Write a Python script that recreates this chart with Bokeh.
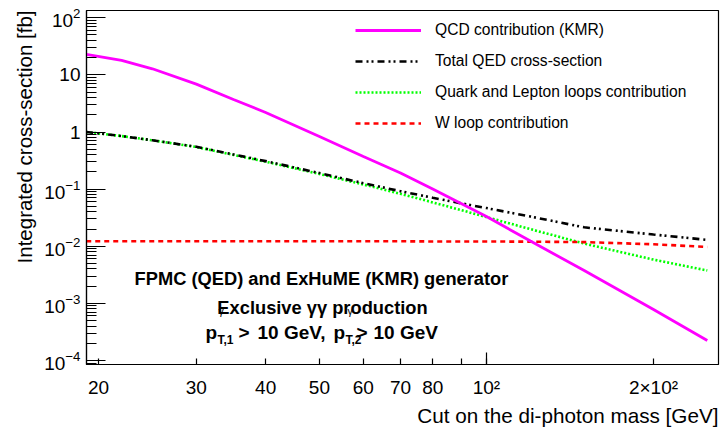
import numpy as np
from bokeh.plotting import figure
from bokeh.models import FixedTicker, Legend, LegendItem, Label, Title, Range1d
from bokeh.embed import file_html
from bokeh.resources import INLINE

# ---------------- data ----------------
mass_cut = [19, 22, 25, 30, 35, 40, 50, 60, 70, 80, 90, 100, 120, 150, 200, 250]
qcd_kmr = [22.8, 18.0, 12.8, 6.9, 3.71, 2.20, 0.834, 0.372, 0.191, 0.100, 0.056,
           0.0331, 0.0123, 0.00375, 7.8e-4, 2.23e-4]
total_qed = [1.00, 0.85, 0.716, 0.551, 0.405, 0.309, 0.191, 0.127, 0.0919, 0.0705,
             0.0564, 0.0465, 0.0331, 0.0214, 0.0160, 0.0129]
quark_lepton = [1.00, 0.85, 0.716, 0.546, 0.397, 0.302, 0.184, 0.1205, 0.0828,
                0.0585, 0.0429, 0.0323, 0.0199, 0.0111, 0.00582, 0.00375]
w_loop = [0.0122, 0.0122, 0.0122, 0.0122, 0.0122, 0.0122, 0.0122, 0.0122, 0.0122,
          0.0121, 0.0121, 0.0121, 0.0120, 0.0118, 0.0108, 0.0097]

series_labels = ["QCD contribution (KMR)", "Total QED cross-section",
                 "Quark and Lepton loops contribution", "W loop contribution"]

x_ticks = [20, 30, 40, 50, 60, 70, 80, 90, 100, 200]
x_tick_labels = ["20", "30", "40", "50", "60", "70", "80", "", "10\u00b2", "2\u00d710\u00b2"]
y_ticks = [1e-4, 1e-3, 1e-2, 1e-1, 1, 10, 100]
y_minor = [9e-5] + [k * 10.0 ** e for e in range(-4, 2) for k in range(2, 10)]

FONT = "Liberation Sans"

p = figure(width=720, height=430, x_axis_type="log", y_axis_type="log",
           x_range=Range1d(19.02, 261.9), y_range=Range1d(10 ** -4.072, 10 ** 2.128),
           output_backend="svg", toolbar_location=None,
           min_border_left=86, min_border_right=2, min_border_top=10, min_border_bottom=66)

p.xgrid.visible = False
p.ygrid.visible = False
p.outline_line_color = "black"
p.outline_line_width = 1.2
p.background_fill_color = "white"
p.border_fill_color = "white"

# x axis
xa = p.xaxis[0]
xa.ticker = FixedTicker(ticks=x_ticks, minor_ticks=[100])
xa.major_label_overrides = {t: s for t, s in zip(x_ticks, x_tick_labels)}
xa.major_tick_in = 6
xa.major_tick_out = 0
xa.minor_tick_in = 12
xa.minor_tick_out = 0
xa.major_label_standoff = 12

# y axis
ya = p.yaxis[0]
ya.ticker = FixedTicker(ticks=y_ticks, minor_ticks=y_minor)
ya.major_label_overrides = {10: "10", 1: "1"}
ya.major_tick_in = 19
ya.major_tick_out = 0
ya.minor_tick_in = 10
ya.minor_tick_out = 0
ya.major_label_standoff = 6

for ax in (xa, ya):
    ax.major_label_text_font = FONT
    ax.major_label_text_font_size = "19px"
    ax.major_label_text_color = "black"
    ax.axis_line_color = "black"
    ax.axis_line_width = 1.2
    ax.major_tick_line_color = "black"
    ax.major_tick_line_width = 1.2
    ax.minor_tick_line_color = "black"
    ax.minor_tick_line_width = 1.2

p.add_layout(Title(text="Cut on the di-photon mass [GeV]", align="right",
                   text_font=FONT, text_font_size="20.7px", text_font_style="normal",
                   text_color="black", standoff=2, offset=0), "below")
p.add_layout(Title(text="Integrated cross-section [fb]", align="right",
                   text_font=FONT, text_font_size="20.5px", text_font_style="normal",
                   text_color="black", standoff=12), "left")

# curves
r_green = p.line(mass_cut, quark_lepton, line_color="#00ff00", line_width=2.6, line_dash="2 2")
r_black = p.line(mass_cut, total_qed, line_color="black", line_width=2.6, line_dash="7 4 2 3 2 4")
r_red = p.line(mass_cut, w_loop, line_color="#ff0000", line_width=2.6, line_dash="5 4")
r_mag = p.line(mass_cut, qcd_kmr, line_color="#ff00ff", line_width=2.8)

legend = Legend(items=[LegendItem(label=series_labels[0], renderers=[r_mag]),
                       LegendItem(label=series_labels[1], renderers=[r_black]),
                       LegendItem(label=series_labels[2], renderers=[r_green]),
                       LegendItem(label=series_labels[3], renderers=[r_red])],
                location=(269, 231), orientation="vertical",
                glyph_width=66, glyph_height=20, label_height=20, label_standoff=14,
                spacing=11, padding=0, margin=0,
                border_line_color=None, background_fill_alpha=0,
                label_text_font=FONT, label_text_font_size="15.6px",
                label_text_color="black")
p.add_layout(legend)

def lab(x, y, text, size="19px", style="bold", align="left"):
    p.add_layout(Label(x=x, y=y, x_units="screen", y_units="screen", text=text,
                       text_align=align, text_baseline="alphabetic",
                       text_font=FONT, text_font_size=size, text_font_style=style,
                       text_color="black"))

lab(235, 86, "FPMC (QED) and ExHuME (KMR) generator", size="18.3px", align="center")
lab(236, 57, "Exclusive \u03b3\u03b3 production", size="18.3px", align="center")
lab(119, 32, "p")
lab(132, 53.5, "\u03b3", size="10.5px", style="normal")
lab(131, 25, "T,1", size="12px")
lab(152, 32, ">")
lab(171, 32, "10 GeV,")
lab(247, 32, "p")
lab(261, 53.5, "\u03b3", size="10.5px", style="normal")
lab(259, 25, "T,2", size="12px")
lab(270, 32, ">")
lab(287, 32, "10 GeV")

open("out.html", "w").write(file_html(p, INLINE))
